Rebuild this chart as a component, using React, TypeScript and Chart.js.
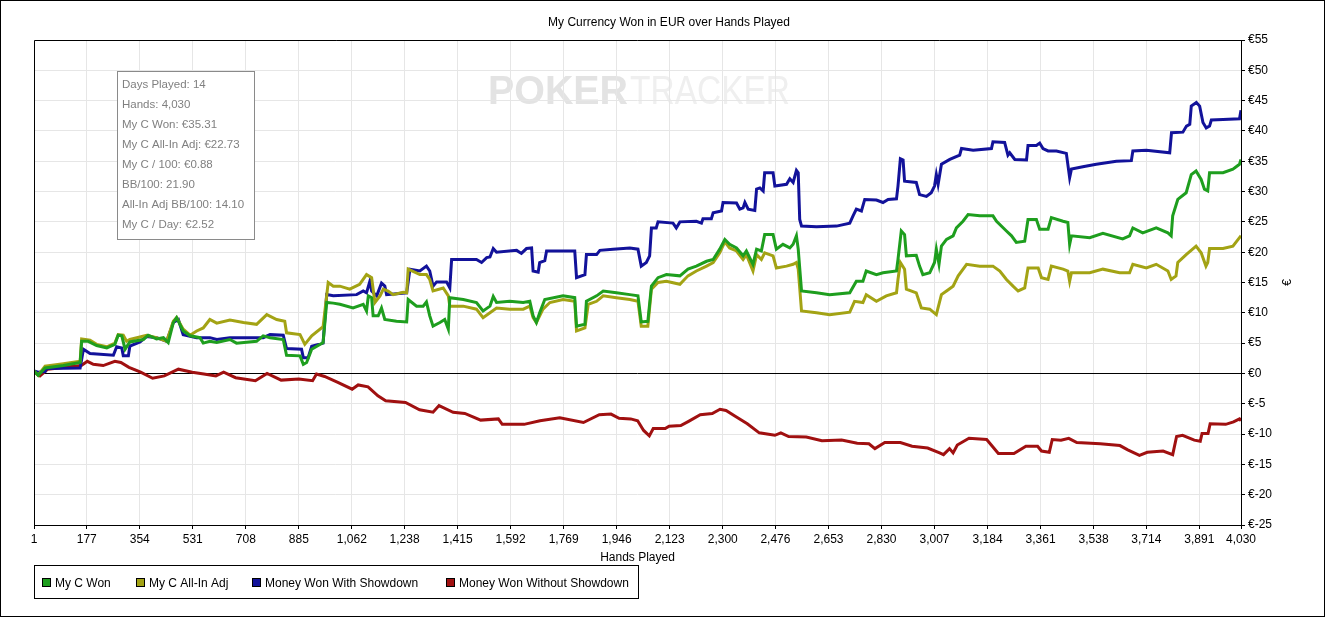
import { Chart, registerables } from "chart.js"
import { useEffect, useRef } from "react"

Chart.register(...registerables)

const chartTitle = "My Currency Won in EUR over Hands Played"
const xTitle = "Hands Played"
const yTitle = "€"

// tick labels on the hands axis
const xTicks = [1, 177, 354, 531, 708, 885, 1062, 1238, 1415, 1592, 1769, 1946, 2123, 2300, 2476, 2653, 2830, 3007, 3184, 3361, 3538, 3714, 3891, 4030]

const statsLines = [
    "Days Played: 14",
    "Hands: 4,030",
    "My C Won: €35.31",
    "My C All-In Adj: €22.73",
    "My C / 100: €0.88",
    "BB/100: 21.90",
    "All-In Adj BB/100: 14.10",
    "My C / Day: €2.52",
]

const seriesNames = ["My C Won", "My C All-In Adj", "Money Won With Showdown", "Money Won Without Showdown"]
const seriesColors = ["#1e9e1e", "#a3a314", "#12129a", "#a01010"]

// My C Won
const wonHands = [1, 15, 38, 99, 155, 160, 182, 210, 244, 271, 282, 294, 305, 321, 366, 382, 410, 433, 449, 466, 477, 499, 522, 555, 566, 588, 611, 655, 677, 744, 766, 789, 833, 844, 889, 900, 911, 928, 966, 978, 1000, 1022, 1066, 1100, 1111, 1117, 1128, 1133, 1150, 1161, 1172, 1211, 1245, 1250, 1278, 1300, 1311, 1322, 1333, 1356, 1372, 1384, 1389, 1434, 1478, 1500, 1523, 1534, 1545, 1589, 1634, 1656, 1667, 1678, 1689, 1706, 1767, 1806, 1812, 1840, 1845, 1879, 1901, 1945, 1990, 2017, 2028, 2050, 2062, 2084, 2112, 2157, 2184, 2212, 2246, 2268, 2290, 2307, 2323, 2346, 2368, 2379, 2401, 2413, 2429, 2440, 2468, 2479, 2501, 2524, 2535, 2546, 2552, 2563, 2613, 2657, 2724, 2746, 2768, 2779, 2813, 2835, 2880, 2885, 2896, 2907, 2913, 2946, 2957, 2968, 2991, 3007, 3013, 3022, 3030, 3047, 3069, 3080, 3102, 3119, 3158, 3202, 3214, 3247, 3264, 3280, 3308, 3319, 3347, 3358, 3386, 3397, 3436, 3452, 3458, 3464, 3525, 3569, 3635, 3658, 3669, 3702, 3747, 3786, 3797, 3802, 3819, 3847, 3864, 3880, 3897, 3908, 3919, 3925, 3970, 4003, 4025, 4030]
const wonValues = [0.4, -0.3, 0.9, 1.3, 1.8, 5.3, 5.3, 4.6, 4.2, 4.8, 6.3, 6.2, 4.0, 5.2, 5.6, 6.3, 5.7, 5.9, 5.1, 8.4, 9.2, 7.0, 6.2, 5.9, 5.0, 5.3, 5.1, 5.6, 5.0, 5.3, 6.2, 5.9, 5.6, 3.0, 2.9, 1.5, 1.8, 4.0, 5.1, 11.7, 11.6, 11.4, 10.8, 11.4, 10.3, 12.8, 12.5, 9.5, 9.5, 10.8, 8.9, 8.6, 8.5, 12.2, 11.1, 11.1, 11.8, 9.5, 7.8, 8.4, 8.9, 7.3, 12.5, 12.2, 11.7, 10.3, 11.1, 12.7, 11.7, 11.9, 11.7, 11.9, 9.5, 8.4, 10.0, 12.2, 12.8, 12.5, 7.8, 8.1, 11.9, 12.8, 13.6, 13.3, 13.0, 12.8, 8.5, 8.6, 14.4, 15.8, 16.3, 16.1, 17.2, 17.7, 18.5, 18.8, 20.5, 22.1, 21.3, 20.7, 19.4, 20.2, 18.0, 20.5, 20.2, 22.9, 22.9, 20.5, 21.3, 20.7, 21.3, 22.7, 20.5, 13.6, 13.3, 13.0, 13.3, 15.2, 15.2, 16.9, 16.3, 16.6, 16.9, 18.8, 23.5, 22.9, 19.4, 19.5, 17.7, 16.3, 16.6, 18.3, 20.5, 18.0, 21.0, 22.1, 22.7, 24.0, 25.1, 26.2, 26.0, 26.0, 25.1, 23.5, 22.7, 21.6, 21.8, 25.4, 25.4, 23.8, 23.8, 25.7, 25.1, 24.9, 21.3, 22.7, 22.4, 23.1, 22.2, 22.7, 24.0, 23.2, 24.0, 23.2, 22.7, 26.0, 28.7, 29.8, 32.8, 33.4, 32.0, 30.4, 30.1, 33.1, 33.1, 33.7, 34.5, 35.3]

// My C All-In Adj
const adjHands = [1, 15, 38, 99, 155, 160, 188, 210, 244, 271, 282, 299, 310, 321, 377, 410, 444, 466, 477, 499, 522, 544, 566, 588, 611, 655, 700, 744, 778, 811, 838, 844, 889, 905, 928, 966, 983, 1000, 1022, 1055, 1088, 1111, 1128, 1139, 1156, 1167, 1183, 1200, 1233, 1245, 1250, 1289, 1311, 1322, 1333, 1367, 1384, 1389, 1434, 1478, 1500, 1523, 1545, 1589, 1634, 1656, 1667, 1678, 1700, 1723, 1767, 1806, 1812, 1840, 1851, 1879, 1901, 1945, 1990, 2017, 2028, 2050, 2062, 2084, 2112, 2157, 2184, 2212, 2246, 2268, 2290, 2307, 2323, 2346, 2368, 2379, 2401, 2413, 2429, 2440, 2468, 2479, 2513, 2535, 2546, 2552, 2563, 2613, 2657, 2724, 2740, 2768, 2779, 2813, 2846, 2880, 2885, 2893, 2907, 2913, 2946, 2963, 2991, 3013, 3030, 3047, 3069, 3086, 3114, 3158, 3202, 3225, 3247, 3269, 3286, 3308, 3319, 3353, 3364, 3386, 3397, 3436, 3452, 3458, 3464, 3525, 3569, 3625, 3658, 3669, 3714, 3747, 3786, 3797, 3813, 3819, 3847, 3880, 3897, 3913, 3919, 3925, 3970, 4003, 4025, 4030]
const adjValues = [0.4, -0.3, 1.2, 1.6, 2.0, 5.7, 5.5, 4.8, 4.4, 5.0, 6.4, 6.3, 5.3, 5.6, 6.3, 5.9, 5.3, 8.6, 9.2, 7.3, 6.3, 7.0, 7.5, 8.9, 8.3, 8.8, 8.4, 8.1, 9.7, 8.9, 8.6, 6.7, 6.4, 4.8, 6.2, 7.7, 15.0, 14.4, 14.4, 13.9, 14.7, 16.3, 15.8, 11.7, 12.8, 13.9, 13.6, 13.0, 13.4, 13.3, 17.2, 16.3, 16.3, 15.5, 13.6, 14.1, 12.8, 11.1, 11.1, 10.6, 9.2, 10.0, 10.8, 10.6, 10.6, 11.1, 9.2, 8.4, 10.6, 11.7, 12.2, 11.9, 7.0, 7.5, 11.4, 11.9, 12.8, 12.5, 12.2, 11.9, 7.8, 7.8, 13.9, 15.0, 15.2, 14.7, 16.1, 16.9, 17.7, 18.3, 19.9, 21.7, 20.7, 20.2, 18.8, 19.6, 16.9, 19.6, 18.8, 19.9, 19.4, 17.4, 17.7, 18.0, 18.3, 17.2, 10.3, 10.0, 9.7, 10.1, 11.9, 11.7, 13.0, 11.9, 12.8, 13.3, 15.5, 18.3, 17.2, 13.9, 13.3, 10.8, 10.6, 9.7, 13.0, 13.6, 14.4, 16.1, 18.0, 17.7, 17.7, 16.9, 15.5, 14.4, 13.6, 14.1, 17.4, 17.4, 15.8, 15.5, 17.7, 17.2, 16.9, 15.2, 16.6, 16.6, 17.2, 16.6, 16.6, 18.0, 17.4, 18.0, 16.9, 15.5, 16.1, 18.3, 19.6, 21.0, 19.9, 17.7, 18.3, 20.6, 20.6, 21.0, 22.4, 22.7]

// Money Won With Showdown
const sdHands = [1, 15, 38, 43, 155, 166, 188, 266, 277, 294, 299, 316, 321, 355, 377, 410, 444, 466, 483, 499, 544, 588, 611, 655, 766, 789, 833, 844, 894, 900, 916, 928, 966, 978, 1000, 1078, 1100, 1111, 1122, 1128, 1145, 1161, 1172, 1178, 1245, 1256, 1289, 1311, 1322, 1333, 1345, 1378, 1389, 1395, 1478, 1495, 1512, 1523, 1534, 1545, 1612, 1628, 1645, 1662, 1667, 1684, 1689, 1706, 1712, 1806, 1812, 1840, 1845, 1879, 1890, 1934, 1990, 2017, 2028, 2045, 2056, 2062, 2078, 2084, 2134, 2145, 2157, 2212, 2229, 2234, 2262, 2268, 2296, 2301, 2346, 2357, 2368, 2374, 2385, 2407, 2413, 2424, 2435, 2440, 2468, 2474, 2513, 2524, 2535, 2546, 2552, 2557, 2563, 2613, 2680, 2724, 2735, 2746, 2763, 2774, 2813, 2835, 2852, 2880, 2885, 2893, 2902, 2907, 2946, 2957, 2980, 2996, 3007, 3013, 3019, 3030, 3058, 3091, 3097, 3136, 3197, 3202, 3241, 3252, 3258, 3275, 3314, 3319, 3347, 3358, 3369, 3386, 3414, 3447, 3458, 3464, 3502, 3547, 3614, 3664, 3669, 3714, 3792, 3798, 3836, 3848, 3859, 3864, 3881, 3892, 3903, 3914, 3925, 3931, 3970, 4025, 4030]
const sdValues = [0.4, 0.2, 0.3, 0.8, 0.9, 4.0, 3.3, 3.0, 4.4, 4.2, 2.9, 2.9, 4.5, 5.2, 6.1, 5.9, 5.3, 8.4, 8.9, 6.4, 5.9, 5.9, 5.6, 5.9, 5.9, 6.4, 6.3, 4.1, 4.0, 2.6, 2.6, 4.5, 5.0, 13.0, 12.8, 13.0, 13.6, 13.3, 15.2, 13.6, 12.8, 14.9, 14.4, 13.0, 13.3, 17.2, 16.9, 17.7, 16.9, 14.4, 15.1, 15.1, 14.1, 18.8, 18.8, 18.3, 19.1, 19.2, 20.6, 20.0, 20.3, 19.8, 20.6, 20.7, 16.9, 16.7, 18.3, 18.6, 20.2, 20.2, 15.8, 16.3, 19.6, 19.6, 20.3, 20.5, 20.7, 20.5, 17.7, 18.3, 19.4, 24.0, 24.0, 25.0, 24.8, 24.0, 25.0, 25.1, 24.8, 25.5, 25.5, 26.5, 26.8, 28.2, 28.1, 27.1, 27.3, 28.2, 27.1, 26.9, 30.4, 30.6, 30.1, 33.1, 33.1, 30.9, 31.2, 32.1, 31.5, 33.5, 33.1, 25.4, 24.3, 24.2, 24.3, 24.8, 26.0, 27.1, 26.8, 28.7, 28.6, 28.2, 28.7, 28.8, 30.9, 35.4, 35.2, 31.7, 31.5, 29.5, 29.2, 29.8, 30.9, 32.8, 31.2, 34.5, 35.3, 36.0, 37.1, 36.8, 37.1, 38.2, 38.1, 36.0, 36.4, 35.3, 35.2, 37.6, 37.6, 38.0, 37.1, 36.7, 36.7, 36.3, 32.3, 33.7, 34.1, 34.5, 35.0, 35.1, 36.7, 36.8, 36.4, 39.7, 39.8, 40.8, 41.1, 44.1, 44.7, 44.1, 41.4, 40.5, 40.8, 41.8, 41.9, 42.0, 43.4]

// Money Won Without Showdown
const nsdHands = [1, 21, 47, 119, 159, 179, 199, 232, 271, 291, 318, 357, 397, 436, 483, 529, 568, 608, 634, 674, 740, 779, 826, 885, 931, 944, 971, 1017, 1063, 1083, 1116, 1149, 1175, 1241, 1288, 1333, 1353, 1400, 1439, 1492, 1551, 1564, 1637, 1690, 1756, 1835, 1888, 1927, 1954, 1993, 2016, 2036, 2055, 2068, 2108, 2121, 2160, 2186, 2225, 2265, 2291, 2311, 2343, 2382, 2422, 2474, 2494, 2520, 2579, 2631, 2697, 2749, 2788, 2808, 2841, 2893, 2932, 2984, 3024, 3037, 3057, 3069, 3083, 3122, 3181, 3220, 3272, 3312, 3351, 3364, 3390, 3400, 3429, 3455, 3482, 3560, 3626, 3652, 3691, 3717, 3770, 3802, 3815, 3835, 3874, 3894, 3900, 3920, 3927, 3979, 4005, 4025, 4030]
const nsdValues = [0.2, -0.4, 0.7, 1.1, 1.3, 2.0, 1.5, 1.3, 2.0, 1.8, 1.0, 0.2, -0.8, -0.4, 0.7, 0.2, -0.1, -0.4, 0.2, -0.7, -1.2, 0.0, -1.1, -0.9, -1.2, -0.1, -0.5, -1.5, -2.6, -1.9, -2.2, -3.7, -4.5, -4.8, -6.0, -6.4, -5.3, -6.4, -6.6, -7.7, -7.5, -8.4, -8.4, -7.8, -7.3, -8.1, -6.8, -6.7, -7.4, -7.5, -7.8, -9.4, -10.3, -9.1, -9.1, -8.7, -8.6, -7.9, -6.8, -6.6, -5.9, -6.1, -7.1, -8.3, -9.8, -10.2, -9.8, -10.4, -10.5, -11.1, -11.0, -11.5, -11.6, -12.4, -11.4, -11.4, -12.0, -12.3, -13.1, -13.4, -12.4, -13.1, -11.8, -10.7, -10.9, -13.2, -13.2, -12.0, -12.0, -12.8, -13.0, -10.9, -11.0, -10.7, -11.4, -11.6, -11.9, -12.6, -13.5, -13.0, -12.8, -13.4, -10.4, -10.2, -11.0, -11.2, -9.9, -9.9, -8.3, -8.4, -8.0, -7.5, -7.8]

const seriesHands = [wonHands, adjHands, sdHands, nsdHands]
const seriesValues = [wonValues, adjValues, sdValues, nsdValues]

const FONT = '"Liberation Sans", Arial, sans-serif'

// legend item x positions (marker left edge)
const legendX = [42, 136, 252, 446]

const decor = {
    id: "decor",
    beforeDraw(chart: any) {
        const { ctx, width, height } = chart
        ctx.save()
        ctx.fillStyle = "#fff"
        ctx.fillRect(0, 0, width, height)

        // faint watermark
        ctx.textBaseline = "alphabetic"
        ctx.textAlign = "left"
        ctx.font = `bold 40px ${FONT}`
        let w = ctx.measureText("POKER").width
        ctx.save()
        ctx.translate(488, 104)
        ctx.scale(140 / w, 1)
        ctx.fillStyle = "#e3e3e3"
        ctx.fillText("POKER", 0, 0)
        ctx.restore()
        ctx.font = `40px ${FONT}`
        w = ctx.measureText("TRACKER").width
        ctx.save()
        ctx.translate(630, 104)
        ctx.scale(160 / w, 1)
        ctx.fillStyle = "#efefef"
        ctx.fillText("TRACKER", 0, 0)
        ctx.restore()
        ctx.restore()
    },
    afterDraw(chart: any) {
        const { ctx, width, height, chartArea } = chart
        ctx.save()
        ctx.strokeStyle = "#000"
        ctx.lineWidth = 1
        // plot frame
        ctx.beginPath()
        ctx.moveTo(chartArea.left + 0.5, chartArea.bottom)
        ctx.lineTo(chartArea.left + 0.5, chartArea.top + 0.5)
        ctx.lineTo(chartArea.right, chartArea.top + 0.5)
        ctx.stroke()
        // outer frame
        ctx.strokeRect(0.5, 0.5, width - 1, height - 1)

        // title
        ctx.fillStyle = "#000"
        ctx.font = `12px ${FONT}`
        ctx.textAlign = "center"
        ctx.textBaseline = "middle"
        ctx.fillText(chartTitle, 669, 23)

        // y axis title, rotated
        ctx.save()
        ctx.translate(1288, (chartArea.top + chartArea.bottom) / 2)
        ctx.rotate(-Math.PI / 2)
        ctx.fillText(yTitle, 0, 0)
        ctx.restore()

        // stats box
        ctx.fillStyle = "#fff"
        ctx.fillRect(117.5, 71.5, 137, 168)
        ctx.strokeStyle = "#8a8a8a"
        ctx.strokeRect(117.5, 71.5, 137, 168)
        ctx.fillStyle = "#808080"
        ctx.textAlign = "left"
        ctx.font = `11.5px ${FONT}`
        statsLines.forEach((line, i) => ctx.fillText(line, 122, 85 + i * 20))

        // legend
        ctx.strokeStyle = "#000"
        ctx.strokeRect(34.5, 565.5, 604, 33)
        ctx.font = `12px ${FONT}`
        seriesNames.forEach((name, i) => {
            const x = legendX[i]
            ctx.fillStyle = seriesColors[i]
            ctx.fillRect(x + 0.5, 578.5, 8, 8)
            ctx.strokeStyle = "#000"
            ctx.strokeRect(x + 0.5, 578.5, 8, 8)
            ctx.fillStyle = "#000"
            ctx.fillText(name, x + 13, 584)
        })
        ctx.restore()
    },
}

const App = () => {
    const canvasRef = useRef<HTMLCanvasElement>(null)

    useEffect(() => {
        if (!canvasRef.current) return
        const datasets = seriesNames.map((name, i) => ({
            label: name,
            data: seriesHands[i].map((h, j) => ({ x: h, y: seriesValues[i][j] })),
            borderColor: seriesColors[i],
            backgroundColor: seriesColors[i],
            borderWidth: 3,
            pointRadius: 0,
            tension: 0,
            fill: false,
        }))

        const myChart = new Chart(canvasRef.current, {
            type: "line",
            data: { datasets },
            options: {
                animation: false,
                responsive: false,
                devicePixelRatio: 1,
                layout: { padding: { top: 40, left: 34, right: 0, bottom: 0 } },
                plugins: {
                    legend: { display: false },
                    tooltip: { enabled: false },
                },
                scales: {
                    x: {
                        type: "linear",
                        min: 1,
                        max: 4030,
                        afterBuildTicks: (s: any) => {
                            s.ticks = xTicks.map(v => ({ value: v }))
                        },
                        afterFit: (s: any) => {
                            s.height = 92
                        },
                        ticks: {
                            autoSkip: false,
                            maxRotation: 0,
                            padding: 3,
                            color: "#000",
                            font: { family: FONT, size: 12 },
                            callback: (v: any) => Number(v).toLocaleString("en-US"),
                        },
                        grid: { color: "#e6e6e6", tickColor: "#000", tickLength: 4 },
                        border: { color: "#000" },
                        title: {
                            display: true,
                            text: xTitle,
                            color: "#000",
                            font: { family: FONT, size: 12 },
                            padding: { top: 0, bottom: 52 },
                        },
                    },
                    y: {
                        position: "right",
                        min: -25,
                        max: 55,
                        afterFit: (s: any) => {
                            s.width = 84
                        },
                        ticks: {
                            stepSize: 5,
                            padding: 3,
                            color: "#000",
                            font: { family: FONT, size: 12 },
                            callback: (v: any) => "€" + v,
                        },
                        grid: {
                            color: (c: any) => (c.tick && c.tick.value === 0 ? "#000" : "#e6e6e6"),
                            tickColor: "#000",
                            tickLength: 4,
                        },
                        border: { color: "#000" },
                    },
                },
            },
            plugins: [decor],
        })

        return () => {
            myChart.destroy()
        }
    }, [])

    return (
        <div style={{ position: "absolute", left: 0, top: 0, width: 1325, height: 617 }}>
            <canvas ref={canvasRef} width={1325} height={617}></canvas>
        </div>
    )
}

export default App
